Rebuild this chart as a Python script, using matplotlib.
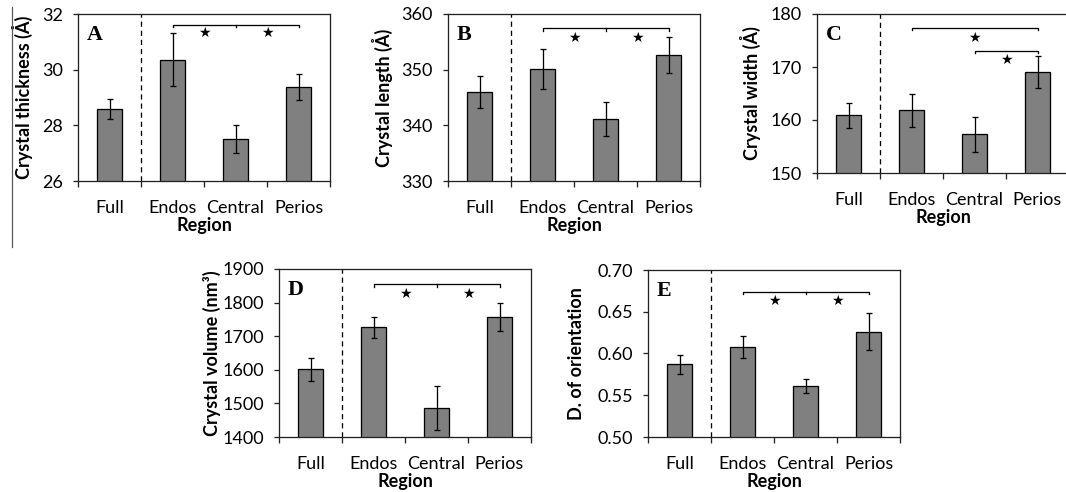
import matplotlib
matplotlib.use("Agg")
import matplotlib.pyplot as plt
from matplotlib.lines import Line2D

plt.rcParams['font.family'] = ['Lato', 'DejaVu Sans']

categories = ["Full", "Endos", "Central", "Perios"]

# A - thickness
thickness = [28.58, 30.35, 27.50, 29.37]
thickness_err = [0.36, 0.95, 0.51, 0.47]
# B - length
length = [346.0, 350.1, 341.2, 352.6]
length_err = [2.8, 3.6, 3.05, 3.2]
# C - width
width = [160.9, 161.8, 157.3, 169.0]
width_err = [2.35, 3.1, 3.3, 3.0]
# D - volume
volume = [1601, 1726, 1487, 1758]
volume_err = [35, 32, 66, 42]
# E - degree of orientation
orient = [0.587, 0.608, 0.561, 0.626]
orient_err = [0.011, 0.013, 0.008, 0.022]

# significance brackets: (x0, x1, y, middle tick) and stars (x, y)
brk_A = [(1, 3, 31.60, 2)]
star_A = [(1.5, 31.31), (2.5, 31.31)]
brk_B = [(1, 3, 357.4, 2)]
star_B = [(1.5, 355.7), (2.5, 355.7)]
brk_C = [(1, 3, 177.4, None), (2, 3, 173.0, None)]
star_C = [(2, 175.5), (2.5, 171.3)]
brk_D = [(1, 3, 1854, 2)]
star_D = [(1.5, 1826), (2.5, 1826)]
brk_E = [(1, 3, 0.674, 2)]
star_E = [(1.5, 0.663), (2.5, 0.663)]

W, H = 1066, 492
fig = plt.figure(figsize=(W / 72, H / 72), dpi=72)


def panel(l, r, t, b, vals, errs, ylim, yticks, ytl, ylabel, letter, ylab_x, brks, stars):
    w, h = r - l, b - t
    ax = fig.add_axes([l / W, 1 - b / H, w / W, h / H])
    xs = range(len(categories))
    ax.bar(xs, vals, width=0.41, color='#808080', edgecolor='black', linewidth=1.3, zorder=2)
    ax.errorbar(xs, vals, yerr=errs, fmt='none', ecolor='black', elinewidth=1.3,
                capsize=3, capthick=1.3, zorder=3)
    ax.set_xlim(-0.5, 3.5)
    ax.set_ylim(ylim)
    ax.set_xticks([-0.5, 0.5, 1.5, 2.5, 3.5])
    ax.set_xticklabels([])
    ax.tick_params(axis='x', direction='out', length=6, width=1.3, color='#222222')
    ax.set_yticks(yticks)
    ax.set_yticklabels(ytl)
    ax.tick_params(axis='y', direction='out', length=5, width=1.3, pad=10,
                   labelsize=18, color='#222222')
    for s in ax.spines.values():
        s.set_color('#222222')
        s.set_linewidth(1.3)
    ax.axvline(0.5, color='black', lw=1.3, ls=(0, (4, 3)), zorder=1)
    for i, c in enumerate(categories):
        ax.annotate(c, (i, 0), xycoords=('data', 'axes fraction'), xytext=(0, -27),
                    textcoords='offset points', ha='center', va='center', fontsize=18)
    ax.annotate('Region', (0.5, 0), xycoords='axes fraction', xytext=(0, -44),
                textcoords='offset points', ha='center', va='center', fontsize=18,
                fontweight='bold')
    ax.text(-ylab_x / w, 0.5, ylabel, transform=ax.transAxes, rotation=90,
            ha='center', va='center', fontsize=18, fontweight='bold')
    ax.text(9 / w, 1 - 11 / h, letter, transform=ax.transAxes, ha='left', va='top',
            family='Liberation Serif', fontweight='bold', fontsize=22)
    d = (ylim[1] - ylim[0]) * 0.013
    for x0, x1, y, mid in brks:
        ax.plot([x0, x0, x1, x1], [y - d, y, y, y - d], color='black', lw=1.3)
        if mid is not None:
            ax.plot([mid, mid], [y, y - d], color='black', lw=1.3)
    for x, y in stars:
        ax.text(x, y, '\u2605', family='DejaVu Sans', fontsize=14, ha='center', va='center')
    return ax


panel(78, 330, 14, 181, thickness, thickness_err, (26, 32), [26, 28, 30, 32],
      ['26', '28', '30', '32'], 'Crystal thickness (\u00c5)', 'A', 56, brk_A, star_A)
panel(448, 700, 14, 181, length, length_err, (330, 360), [330, 340, 350, 360],
      ['330', '340', '350', '360'], 'Crystal length (\u00c5)', 'B', 66, brk_B, star_B)
panel(817, 1069, 14, 173, width, width_err, (150, 180), [150, 160, 170, 180],
      ['150', '160', '170', '180'], 'Crystal width (\u00c5)', 'C', 67, brk_C, star_C)
panel(279, 531, 269, 437, volume, volume_err, (1400, 1900),
      [1400, 1500, 1600, 1700, 1800, 1900],
      ['1400', '1500', '1600', '1700', '1800', '1900'],
      'Crystal volume (nm\u00b3)', 'D', 67, brk_D, star_D)
panel(648, 900, 270, 437, orient, orient_err, (0.50, 0.70),
      [0.50, 0.55, 0.60, 0.65, 0.70], ['0.50', '0.55', '0.60', '0.65', '0.70'],
      'D. of orientation', 'E', 71, brk_E, star_E)

# frame edge line at the far left
fig.add_artist(Line2D([12 / W, 12 / W], [1 - 7 / H, 1 - 247 / H], color='#555555', lw=1.2))

fig.savefig('out.png', dpi=72)
